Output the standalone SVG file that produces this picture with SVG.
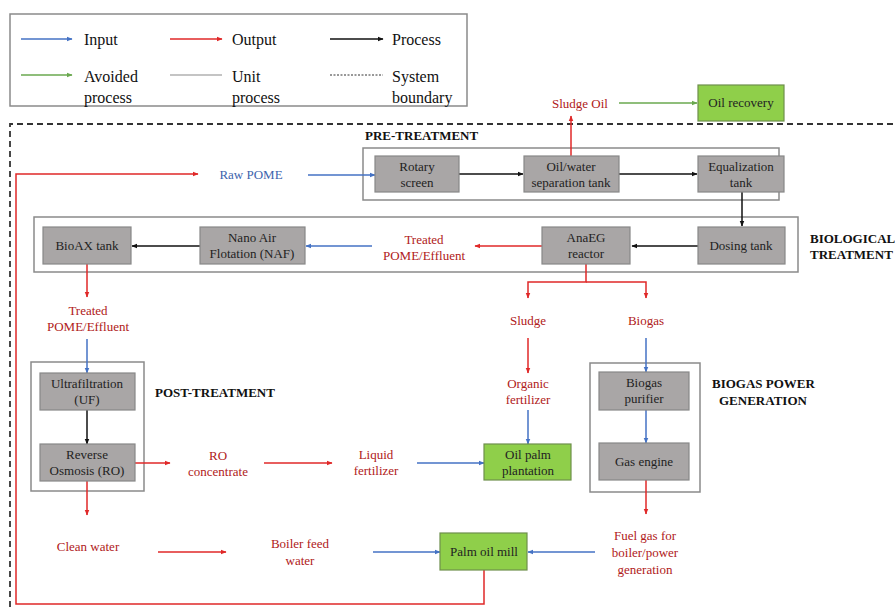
<svg xmlns="http://www.w3.org/2000/svg" width="895" height="607" viewBox="0 0 895 607" font-family="'Liberation Serif', 'Times New Roman', Tinos, 'DejaVu Serif', serif">
  <style>
    text { font-family: "Liberation Serif", "Times New Roman", Tinos, "DejaVu Serif", serif; font-size: 13px; }
    .lg { font-size: 16px; fill: #111; }
    .n { fill: #222; text-anchor: middle; }
    .r { fill: #b02020; text-anchor: middle; }
    .b { fill: #3d64ad; text-anchor: middle; }
    .h { font-weight: bold; fill: #111; }
    .unit { fill: #a9a6a6; stroke: #888; stroke-width: 1.2; }
    .green { fill: #8fcf4a; stroke: #6e8f4c; stroke-width: 1.2; }
    .grp { fill: none; stroke: #8a8a8a; stroke-width: 1.5; }
    .ar { fill: none; stroke-width: 1.5; }
    .in { stroke: #4472c4; marker-end: url(#mb); }
    .out { stroke: #e02828; marker-end: url(#mr); }
    .proc { stroke: #111; marker-end: url(#mk); }
    .avd { stroke: #6aa84f; marker-end: url(#mg); }
    .ln-out { stroke: #e02828; }
  </style>
  <defs>
    <marker id="mb" viewBox="0 0 10 10" refX="9" refY="5" markerWidth="6" markerHeight="6" markerUnits="userSpaceOnUse" orient="auto"><path d="M0,1 L10,5 L0,9 z" fill="#4472c4"/></marker>
    <marker id="mr" viewBox="0 0 10 10" refX="9" refY="5" markerWidth="6" markerHeight="6" markerUnits="userSpaceOnUse" orient="auto"><path d="M0,1 L10,5 L0,9 z" fill="#e02828"/></marker>
    <marker id="mk" viewBox="0 0 10 10" refX="9" refY="5" markerWidth="6" markerHeight="6" markerUnits="userSpaceOnUse" orient="auto"><path d="M0,1 L10,5 L0,9 z" fill="#111"/></marker>
    <marker id="mg" viewBox="0 0 10 10" refX="9" refY="5" markerWidth="6" markerHeight="6" markerUnits="userSpaceOnUse" orient="auto"><path d="M0,1 L10,5 L0,9 z" fill="#6aa84f"/></marker>
  </defs>
  <rect width="895" height="607" fill="#fff"/>

  <!-- legend -->
  <g id="legend">
    <rect x="10" y="14" width="457" height="92" fill="#fff" stroke="#8a8a8a" stroke-width="1.5"/>
    <line class="ar in" x1="21" y1="39" x2="72" y2="39"/>
    <text class="lg" x="84" y="45">Input</text>
    <line class="ar out" x1="170" y1="39" x2="222" y2="39"/>
    <text class="lg" x="232" y="45">Output</text>
    <line class="ar proc" x1="330" y1="39" x2="383" y2="39"/>
    <text class="lg" x="392" y="45">Process</text>
    <line class="ar avd" x1="21" y1="75" x2="72" y2="75"/>
    <text class="lg" x="84" y="82">Avoided</text>
    <text class="lg" x="84" y="103">process</text>
    <line x1="170" y1="75" x2="222" y2="75" stroke="#b0b0b0" stroke-width="1.5"/>
    <text class="lg" x="232" y="82">Unit</text>
    <text class="lg" x="232" y="103">process</text>
    <line x1="330" y1="75" x2="383" y2="75" stroke="#333" stroke-width="1" stroke-dasharray="2,1.5"/>
    <text class="lg" x="392" y="82">System</text>
    <text class="lg" x="392" y="103">boundary</text>
  </g>

  <!-- system boundary -->
  <path id="boundary" d="M10,607 V124 H895" fill="none" stroke="#333" stroke-width="1.8" stroke-dasharray="6,4"/>

  <!-- unit process groups -->
  <g id="groups">
    <rect class="grp" x="363" y="148" width="416" height="52"/>
    <rect class="grp" x="34" y="217" width="764" height="55"/>
    <rect class="grp" x="31" y="362" width="113" height="129"/>
    <rect class="grp" x="590" y="363" width="110" height="129"/>
    <text class="h" x="365" y="140">PRE-TREATMENT</text>
    <text class="h" x="810" y="243">BIOLOGICAL</text>
    <text class="h" x="810" y="259">TREATMENT</text>
    <text class="h" x="155" y="397">POST-TREATMENT</text>
    <text class="h" x="712" y="388">BIOGAS POWER</text>
    <text class="h" x="719" y="405">GENERATION</text>
  </g>

  <!-- connectors -->
  <g id="connectors">
    <path class="ar ln-out" d="M484,570 V604 H16 V174 H198" marker-end="url(#mr)"/>
    <line class="ar in" x1="308" y1="175" x2="375" y2="175"/>
    <line class="ar proc" x1="459" y1="174" x2="523" y2="174"/>
    <line class="ar proc" x1="619" y1="174" x2="697" y2="174"/>
    <line class="ar out" x1="571" y1="156" x2="571" y2="116"/>
    <line class="ar avd" x1="619" y1="103" x2="697" y2="103"/>
    <line class="ar proc" x1="742" y1="192" x2="742" y2="226"/>
    <line class="ar proc" x1="698" y1="246" x2="632" y2="246"/>
    <line class="ar out" x1="542" y1="246" x2="475" y2="246"/>
    <line class="ar in" x1="372" y1="246" x2="306" y2="246"/>
    <line class="ar proc" x1="200" y1="246" x2="132" y2="246"/>
    <path class="ar ln-out" d="M586,264 V282 H528 V298" marker-end="url(#mr)"/>
    <path class="ar ln-out" d="M586,282 H646 V298" marker-end="url(#mr)"/>
    <line class="ar out" x1="87" y1="264" x2="87" y2="297"/>
    <line class="ar in" x1="87" y1="339" x2="87" y2="373"/>
    <line class="ar proc" x1="87" y1="410" x2="87" y2="444"/>
    <line class="ar out" x1="135" y1="463" x2="170" y2="463"/>
    <line class="ar out" x1="264" y1="463" x2="332" y2="463"/>
    <line class="ar in" x1="417" y1="463" x2="484" y2="463"/>
    <line class="ar out" x1="528" y1="338" x2="528" y2="373"/>
    <line class="ar in" x1="528" y1="410" x2="528" y2="444"/>
    <line class="ar in" x1="646" y1="338" x2="646" y2="372"/>
    <line class="ar in" x1="646" y1="410" x2="646" y2="443"/>
    <line class="ar out" x1="646" y1="480" x2="646" y2="514"/>
    <line class="ar out" x1="87" y1="481" x2="87" y2="515"/>
    <line class="ar out" x1="158" y1="552" x2="226" y2="552"/>
    <line class="ar in" x1="373" y1="552" x2="440" y2="552"/>
    <line class="ar in" x1="595" y1="552" x2="528" y2="552" stroke-width="2"/>
  </g>

  <!-- flow labels -->
  <g id="labels">
    <text class="r" x="580" y="108">Sludge Oil</text>
    <text class="b" x="251" y="179">Raw POME</text>
    <text class="r" x="424" y="244">Treated</text>
    <text class="r" x="424" y="260">POME/Effluent</text>
    <text class="r" x="88" y="315">Treated</text>
    <text class="r" x="88" y="331">POME/Effluent</text>
    <text class="r" x="528" y="325">Sludge</text>
    <text class="r" x="646" y="325">Biogas</text>
    <text class="r" x="528" y="388">Organic</text>
    <text class="r" x="528" y="404">fertilizer</text>
    <text class="r" x="218" y="460">RO</text>
    <text class="r" x="218" y="476">concentrate</text>
    <text class="r" x="376" y="459">Liquid</text>
    <text class="r" x="376" y="475">fertilizer</text>
    <text class="r" x="88" y="551">Clean water</text>
    <text class="r" x="300" y="548">Boiler feed</text>
    <text class="r" x="300" y="565">water</text>
    <text class="r" x="645" y="540">Fuel gas for</text>
    <text class="r" x="645" y="557">boiler/power</text>
    <text class="r" x="645" y="574">generation</text>
  </g>

  <!-- unit processes -->
  <g id="oil-recovery"><rect class="green" x="698" y="85" width="86" height="36"/><text class="n" x="741" y="107">Oil recovery</text></g>
  <g id="rotary-screen"><rect class="unit" x="375" y="156" width="84" height="36"/><text class="n" x="417" y="171">Rotary</text><text class="n" x="417" y="187">screen</text></g>
  <g id="oil-water-separation"><rect class="unit" x="524" y="156" width="95" height="36"/><text class="n" x="571" y="171">Oil/water</text><text class="n" x="571" y="187">separation tank</text></g>
  <g id="equalization-tank"><rect class="unit" x="698" y="156" width="86" height="36"/><text class="n" x="741" y="171">Equalization</text><text class="n" x="741" y="187">tank</text></g>
  <g id="dosing-tank"><rect class="unit" x="698" y="227" width="87" height="37"/><text class="n" x="741" y="250">Dosing tank</text></g>
  <g id="anaeg-reactor"><rect class="unit" x="542" y="227" width="88" height="37"/><text class="n" x="586" y="242">AnaEG</text><text class="n" x="586" y="258">reactor</text></g>
  <g id="naf"><rect class="unit" x="200" y="227" width="105" height="37"/><text class="n" x="252" y="242">Nano Air</text><text class="n" x="252" y="258">Flotation (NAF)</text></g>
  <g id="bioax-tank"><rect class="unit" x="43" y="227" width="88" height="37"/><text class="n" x="87" y="250">BioAX tank</text></g>
  <g id="ultrafiltration"><rect class="unit" x="40" y="373" width="95" height="37"/><text class="n" x="87" y="388">Ultrafiltration</text><text class="n" x="87" y="404">(UF)</text></g>
  <g id="reverse-osmosis"><rect class="unit" x="40" y="444" width="95" height="37"/><text class="n" x="87" y="459">Reverse</text><text class="n" x="87" y="475">Osmosis (RO)</text></g>
  <g id="oil-palm-plantation"><rect class="green" x="484" y="444" width="87" height="36"/><text class="n" x="528" y="459">Oil palm</text><text class="n" x="528" y="475">plantation</text></g>
  <g id="biogas-purifier"><rect class="unit" x="599" y="372" width="90" height="38"/><text class="n" x="644" y="387">Biogas</text><text class="n" x="644" y="403">purifier</text></g>
  <g id="gas-engine"><rect class="unit" x="599" y="443" width="90" height="37"/><text class="n" x="644" y="466">Gas engine</text></g>
  <g id="palm-oil-mill"><rect class="green" x="440" y="533" width="87" height="37"/><text class="n" x="484" y="556">Palm oil mill</text></g>
</svg>
